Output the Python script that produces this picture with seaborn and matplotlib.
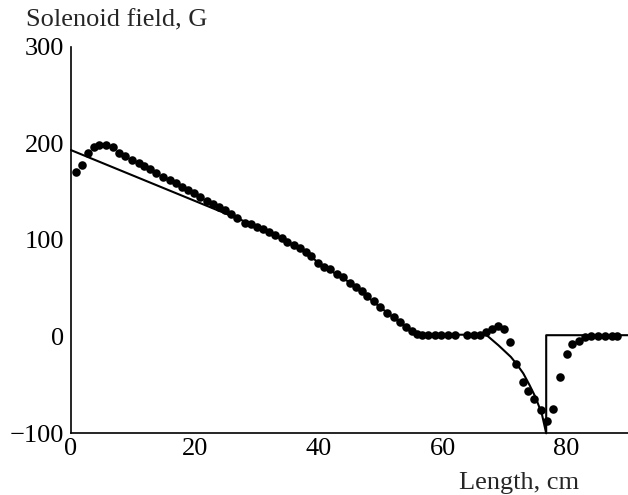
import matplotlib
matplotlib.use("Agg")
import matplotlib.pyplot as plt
import seaborn as sns
import pandas as pd

# measured field (dots)
x_dots = [0.8, 1.7, 2.8, 3.7, 4.6, 5.6, 6.7, 7.7, 8.7, 9.8, 10.9, 11.8, 12.8, 13.8,
          14.9, 15.9, 17.0, 17.9, 18.9, 19.9, 20.9, 21.9, 22.9, 23.9, 24.9, 25.9,
          26.8, 28.1, 29.0, 30.0, 31.0, 32.0, 33.0, 34.0, 34.9, 36.0, 37.0, 37.9,
          38.8, 39.9, 40.8, 41.8, 42.9, 43.9, 45.0, 46.0, 46.9, 47.8, 48.9, 49.9,
          51.0, 52.1, 53.1, 54.1, 55.0, 55.8, 56.6, 57.7, 58.8, 59.8, 60.9, 62.0,
          63.9, 65.0, 66.0, 67.0, 67.9, 68.9, 69.9, 70.9, 71.8, 73.0, 73.8, 74.7,
          75.9, 76.8, 77.8, 78.9, 80.0, 80.9, 82.0, 82.9, 84.0, 85.1, 86.2, 87.3, 88.1]
y_dots = [170, 178, 190, 196, 198, 198, 196.7, 190.5, 187, 183, 179.5, 177, 173.5, 169.8,
          165.5, 162.5, 158.8, 155.3, 151.9, 149, 144.3, 140.8, 137.4, 134.6, 131.2, 127,
          122.6, 118, 116.7, 113.9, 111.2, 108.4, 105, 101.9, 98.3, 95, 91.5, 88,
          83.5, 76.6, 72.5, 69.8, 64.9, 62.1, 55.9, 51.8, 47.6, 42.1, 37.3, 30.4,
          24.8, 20.1, 15.5, 10.4, 6.2, 2.8, 2, 2, 2, 2, 2, 2,
          2, 2, 2, 5, 7.6, 11, 7.6, -5.2, -28.6, -46.6, -55.9, -64.5,
          -75.9, -87, -74.8, -42, -17.9, -7.9, -4.1, -0.6, 0.7, 0.6, 0.6, 0.6, 0.6]

# calculated field (solid line)
x_line = [0, 27, 30, 35, 38, 40, 45, 50, 53, 55, 56.5, 67, 69, 71, 72, 73, 74, 75, 76,
          76.7, 76.7, 90]
y_line = [193, 122, 114, 98, 87, 76, 56, 30, 15, 6, 2, 2, -9, -21, -29, -38, -50, -63, -80,
          -100, 1.5, 1.5]

x_ticks = [0, 20, 40, 60, 80]
y_ticks = [-100, 0, 100, 200, 300]

sns.set_style("white")
plt.rcParams['font.family'] = ['Liberation Serif', 'DejaVu Serif']

fig = plt.figure(figsize=(6.28, 4.95), dpi=100)
ax = fig.add_axes([71 / 628, 61.7 / 495, 557.6 / 628, 386.6 / 495])

dots = pd.DataFrame({"x": x_dots, "y": y_dots})
line = pd.DataFrame({"x": x_line, "y": y_line})

sns.lineplot(data=line, x="x", y="y", estimator=None, sort=False, color="black",
             linewidth=1.5, ax=ax, clip_on=False)
sns.scatterplot(data=dots, x="x", y="y", color="black", s=38, edgecolor="black",
                linewidth=0, ax=ax, zorder=3, clip_on=False)

ax.set_xlim(0, 90)
ax.set_ylim(-100, 300)
ax.set_xticks(x_ticks)
ax.set_yticks(y_ticks)
ax.set_xticklabels([str(v) for v in x_ticks])
ax.set_yticklabels(["\u2212100" if v < 0 else str(v) for v in y_ticks])
ax.set_xlabel("")
ax.set_ylabel("")
for s in ["top", "right"]:
    ax.spines[s].set_visible(False)
for s in ["left", "bottom"]:
    ax.spines[s].set_linewidth(1.2)
    ax.spines[s].set_color("black")
ax.tick_params(axis="both", direction="in", length=6.5, width=1.2, colors="black",
               labelsize=19)
ax.tick_params(axis="x", pad=3.5)
ax.tick_params(axis="y", pad=5)

fig.text(26 / 628, 1 - 26 / 495, "Solenoid field, G", ha="left", va="baseline", fontsize=19)
fig.text(519 / 628, 6.3 / 495, "Length, cm", ha="center", va="baseline", fontsize=19)

fig.savefig("out.png", dpi=100)
